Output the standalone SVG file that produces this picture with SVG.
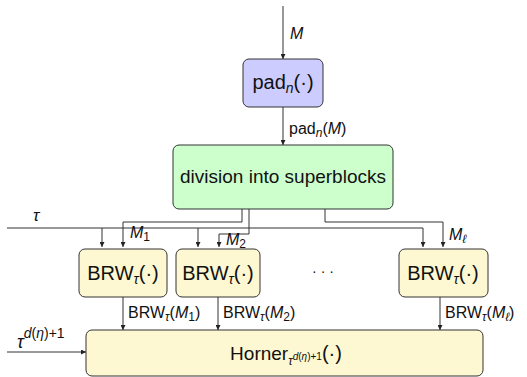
<svg xmlns="http://www.w3.org/2000/svg" width="527" height="377" viewBox="0 0 527 377">
<defs>
<marker id="ah" viewBox="0 0 8 8" refX="8" refY="4" markerWidth="5" markerHeight="5" orient="auto" markerUnits="userSpaceOnUse">
<path d="M0,0 L8,4 L0,8 z" fill="#222"/>
</marker>
<style>
.box{stroke:#333;stroke-width:1}
.blue{fill:#ccccff}
.green{fill:#ccffcc}
.yel{fill:#fdf8d2}
.t{font-family:"Liberation Sans","DejaVu Sans",sans-serif;fill:#111}
.sm{font-size:16px}
.c{stroke:#333;stroke-width:1;fill:none}
.a{marker-end:url(#ah)}
</style>
</defs>
<rect width="527" height="377" fill="#fff"/>
<g id="connectors">
<path class="c a" d="M283,6 V59"/>
<path class="c a" d="M283,107 V145"/>
<path class="c" d="M7,228 H423"/>
<path class="c a" d="M102,228 V247"/>
<path class="c a" d="M198,228 V247"/>
<path class="c a" d="M423,228 V247"/>
<path class="c a" d="M242,209 V222 H123 V247"/>
<path class="c a" d="M249,209 V234 H219 V247"/>
<path class="c a" d="M325,209 V222 H443 V247"/>
<path class="c a" d="M123,297 V330"/>
<path class="c a" d="M218,297 V330"/>
<path class="c a" d="M440,297 V330"/>
<path class="c a" d="M7,352 H86"/>
</g>
<g id="labels" class="t sm">
<text x="290" y="39" font-style="italic">M</text>
<text x="289" y="134">pad<tspan font-size="12" font-style="italic" dy="3">n</tspan><tspan dy="-3">(</tspan><tspan font-style="italic">M</tspan>)</text>
<text x="33" y="221" font-style="italic" font-size="17">τ</text>
<text x="130" y="238" font-style="italic">M<tspan font-style="normal" font-size="12" dy="3">1</tspan></text>
<text x="226" y="245" font-style="italic">M<tspan font-style="normal" font-size="12" dy="3">2</tspan></text>
<text x="449" y="240" font-style="italic">M<tspan font-size="12" dy="3">ℓ</tspan></text>
<text x="128" y="318">BRW<tspan font-size="12" font-style="italic" dy="3">τ</tspan><tspan dy="-3">(</tspan><tspan font-style="italic">M</tspan><tspan font-size="12" dy="3">1</tspan><tspan dy="-3">)</tspan></text>
<text x="223" y="318">BRW<tspan font-size="12" font-style="italic" dy="3">τ</tspan><tspan dy="-3">(</tspan><tspan font-style="italic">M</tspan><tspan font-size="12" dy="3">2</tspan><tspan dy="-3">)</tspan></text>
<text x="445" y="318">BRW<tspan font-size="12" font-style="italic" dy="3">τ</tspan><tspan dy="-3">(</tspan><tspan font-style="italic">M</tspan><tspan font-size="12" font-style="italic" dy="3">ℓ</tspan><tspan dy="-3">)</tspan></text>
<text x="17" y="348" font-size="18" font-style="italic">τ<tspan font-size="14" dy="-10">d</tspan><tspan font-size="14" font-style="normal">(</tspan><tspan font-size="14">η</tspan><tspan font-size="14" font-style="normal">)+1</tspan></text>
<text x="323" y="276" font-size="14" text-anchor="middle">· · ·</text>
</g>
<g id="pad">
<rect class="box blue" x="243" y="59" width="80" height="48" rx="6"/>
<text class="t" font-size="20" x="283" y="89" text-anchor="middle">pad<tspan font-size="14" font-style="italic" dy="4">n</tspan><tspan dy="-4">(·)</tspan></text>
</g>
<g id="division">
<rect class="box green" x="173" y="145" width="220" height="64" rx="6"/>
<text class="t" font-size="19" x="283" y="183" text-anchor="middle">division into superblocks</text>
</g>
<g id="brw1">
<rect class="box yel" x="79" y="249" width="88" height="48" rx="6"/>
<text class="t" font-size="20" x="123" y="280" text-anchor="middle">BRW<tspan font-size="14" font-style="italic" dy="4">τ</tspan><tspan dy="-4">(·)</tspan></text>
</g>
<g id="brw2">
<rect class="box yel" x="176" y="249" width="84" height="48" rx="6"/>
<text class="t" font-size="20" x="218" y="280" text-anchor="middle">BRW<tspan font-size="14" font-style="italic" dy="4">τ</tspan><tspan dy="-4">(·)</tspan></text>
</g>
<g id="brw3">
<rect class="box yel" x="399" y="249" width="89" height="48" rx="6"/>
<text class="t" font-size="20" x="443" y="280" text-anchor="middle">BRW<tspan font-size="14" font-style="italic" dy="4">τ</tspan><tspan dy="-4">(·)</tspan></text>
</g>
<g id="horner">
<rect class="box yel" x="86" y="330" width="397" height="46" rx="6"/>
<text class="t" x="286" y="360" font-size="19" text-anchor="middle">Horner<tspan font-size="12" font-style="italic" dy="5">τ</tspan><tspan font-size="10" font-style="italic" dy="-5">d</tspan><tspan font-size="10">(</tspan><tspan font-size="10" font-style="italic">η</tspan><tspan font-size="10">)+1</tspan><tspan font-size="20">(·)</tspan></text>
</g>
</svg>
